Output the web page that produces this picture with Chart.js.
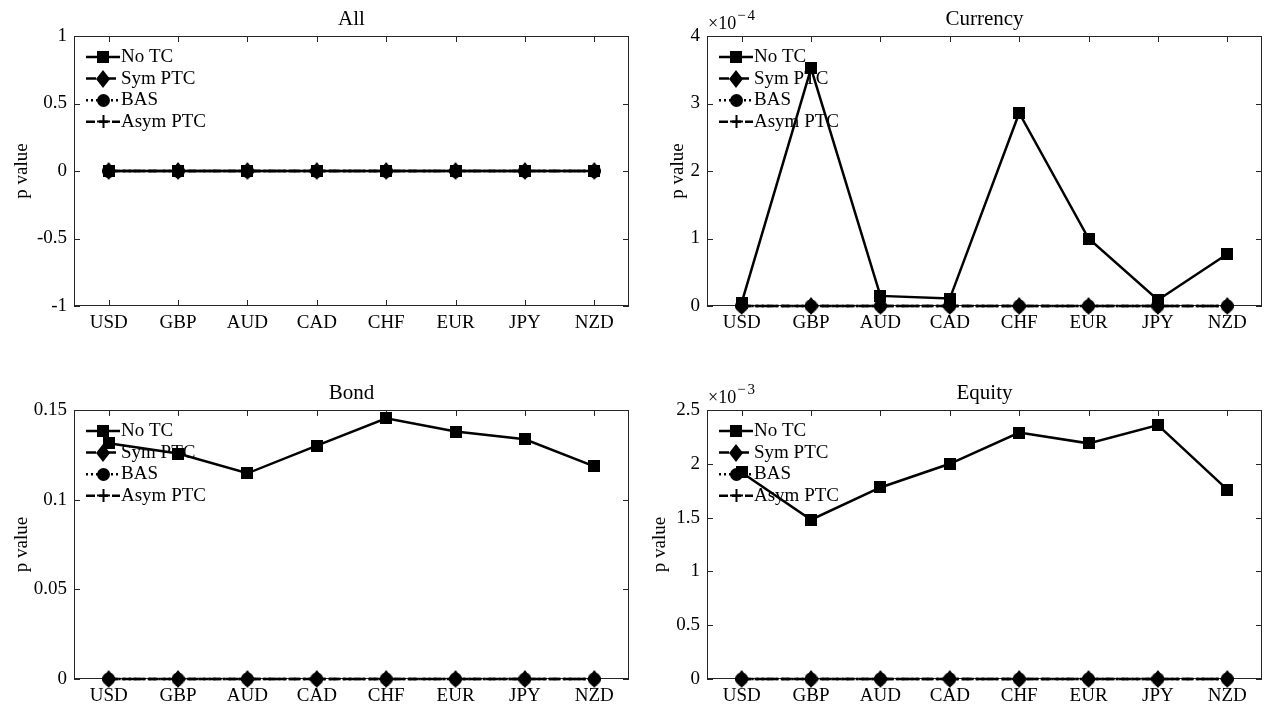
<!DOCTYPE html>
<html>
<head>
<meta charset="utf-8">
<title>p values by currency</title>
<script src="https://cdn.jsdelivr.net/npm/chart.js@4.4.1/dist/chart.umd.min.js"></script>
<style>
  html, body { margin: 0; padding: 0; background: #ffffff; }
  #wrap { position: relative; width: 1266px; height: 710px; overflow: hidden; background: #ffffff; }
  #wrap canvas { position: absolute; }
  #cAll      { left: 0;     top: 0; }
  #cCurrency { left: 633px; top: 0; }
  #cBond     { left: 0;     top: 355px; }
  #cEquity   { left: 633px; top: 355px; }
</style>
</head>
<body>
<div id="wrap">
  <canvas id="cAll" width="660" height="355"></canvas>
  <canvas id="cCurrency" width="660" height="355"></canvas>
  <canvas id="cBond" width="660" height="355"></canvas>
  <canvas id="cEquity" width="660" height="355"></canvas>
</div>
<script>
// ---- data -------------------------------------------------------------
const categories = ['USD', 'GBP', 'AUD', 'CAD', 'CHF', 'EUR', 'JPY', 'NZD'];
const seriesNames = ['No TC', 'Sym PTC', 'BAS', 'Asym PTC'];

// All assets
const allNoTC     = [0, 0, 0, 0, 0, 0, 0, 0];
const allSymPTC   = [0, 0, 0, 0, 0, 0, 0, 0];
const allBAS      = [0, 0, 0, 0, 0, 0, 0, 0];
const allAsymPTC  = [0, 0, 0, 0, 0, 0, 0, 0];
const allTicks    = [-1, -0.5, 0, 0.5, 1];

// Currency (values in units of 1e-4)
const currencyNoTC    = [0.05, 3.52, 0.15, 0.11, 2.86, 1.00, 0.09, 0.77];
const currencySymPTC  = [0, 0, 0, 0, 0, 0, 0, 0];
const currencyBAS     = [0, 0, 0, 0, 0, 0, 0, 0];
const currencyAsymPTC = [0, 0, 0, 0, 0, 0, 0, 0];
const currencyTicks   = [0, 1, 2, 3, 4];

// Bond
const bondNoTC    = [0.1314, 0.1257, 0.1147, 0.1301, 0.1454, 0.1380, 0.1337, 0.1186];
const bondSymPTC  = [0, 0, 0, 0, 0, 0, 0, 0];
const bondBAS     = [0, 0, 0, 0, 0, 0, 0, 0];
const bondAsymPTC = [0, 0, 0, 0, 0, 0, 0, 0];
const bondTicks   = [0, 0.05, 0.1, 0.15];

// Equity (values in units of 1e-3)
const equityNoTC    = [1.92, 1.48, 1.78, 2.00, 2.29, 2.19, 2.36, 1.76];
const equitySymPTC  = [0, 0, 0, 0, 0, 0, 0, 0];
const equityBAS     = [0, 0, 0, 0, 0, 0, 0, 0];
const equityAsymPTC = [0, 0, 0, 0, 0, 0, 0, 0];
const equityTicks   = [0, 0.5, 1, 1.5, 2, 2.5];

// ---- styling ----------------------------------------------------------
const FONT = '"Liberation Serif", "Times New Roman", serif';
const INK = '#000000';
const AXIS = '#262626';
const PW = 660, PH = 355;      // size of one panel canvas (right side runs past the frame)
const Y_AXIS_W = 74;
const X_AXIS_H = 30;

function markerCanvas(w, h, paint) {
  const c = document.createElement('canvas');
  c.width = w; c.height = h;
  const g = c.getContext('2d');
  g.fillStyle = INK; g.strokeStyle = INK;
  paint(g, w, h);
  return c;
}
const mSquare = markerCanvas(12, 12, (g, w, h) => g.fillRect(0, 0, w, h));
const mDiamond = markerCanvas(14, 18, (g, w, h) => {
  g.beginPath(); g.moveTo(w / 2, 0); g.lineTo(w, h / 2); g.lineTo(w / 2, h); g.lineTo(0, h / 2);
  g.closePath(); g.fill();
});
const mCircle = markerCanvas(13, 13, (g, w, h) => {
  g.beginPath(); g.arc(w / 2, h / 2, w / 2, 0, Math.PI * 2); g.fill();
});
const mPlus = markerCanvas(13, 13, (g, w, h) => {
  g.lineWidth = 2;
  g.beginPath(); g.moveTo(w / 2, 0); g.lineTo(w / 2, h); g.moveTo(0, h / 2); g.lineTo(w, h / 2); g.stroke();
});

const seriesStyles = [
  { marker: mSquare,  dash: [],            order: 4 },
  { marker: mDiamond, dash: [10, 4, 2, 4], order: 3 },
  { marker: mCircle,  dash: [2, 3],        order: 2 },
  { marker: mPlus,    dash: [9, 4],        order: 1 }
];

// ---- plugins ----------------------------------------------------------
// axes box with inward tick marks on all four sides
const framePlugin = {
  id: 'frame',
  beforeDatasetsDraw(chart) {
    const { ctx, chartArea: a, scales: { x, y } } = chart;
    const tl = 6;
    ctx.save();
    ctx.strokeStyle = AXIS;
    ctx.lineWidth = 1;
    ctx.strokeRect(a.left + 0.5, a.top + 0.5, a.right - a.left - 1, a.bottom - a.top - 1);
    ctx.beginPath();
    x.ticks.forEach((t, i) => {
      const px = Math.round(x.getPixelForTick(i)) + 0.5;
      ctx.moveTo(px, a.bottom); ctx.lineTo(px, a.bottom - tl);
      ctx.moveTo(px, a.top); ctx.lineTo(px, a.top + tl);
    });
    y.ticks.forEach(t => {
      const py = Math.round(y.getPixelForValue(t.value)) + 0.5;
      ctx.moveTo(a.left, py); ctx.lineTo(a.left + tl, py);
      ctx.moveTo(a.right, py); ctx.lineTo(a.right - tl, py);
    });
    ctx.stroke();
    ctx.restore();
  }
};

// boxless key in the upper left corner of the axes
const keyPlugin = {
  id: 'key',
  beforeDatasetsDraw(chart) {
    const { ctx, chartArea: a } = chart;
    ctx.save();
    chart.data.datasets.forEach((d, i) => {
      const st = seriesStyles[i];
      const yy = a.top + 21 + i * 21.6;
      ctx.strokeStyle = INK;
      ctx.lineWidth = 2.5;
      ctx.setLineDash(st.dash);
      ctx.beginPath();
      ctx.moveTo(a.left + 12, yy); ctx.lineTo(a.left + 46, yy);
      ctx.stroke();
      ctx.setLineDash([]);
      const m = st.marker;
      ctx.drawImage(m, Math.round(a.left + 29 - m.width / 2), Math.round(yy - m.height / 2));
      ctx.fillStyle = INK;
      ctx.font = '19px ' + FONT;
      ctx.textAlign = 'left';
      ctx.textBaseline = 'middle';
      ctx.fillText(d.label, a.left + 47, yy);
    });
    ctx.restore();
  }
};

// panel title and the axis multiplier above the y axis
const headPlugin = {
  id: 'head',
  afterDraw(chart, args, opts) {
    const { ctx, chartArea: a } = chart;
    ctx.save();
    ctx.fillStyle = INK;
    ctx.font = '21px ' + FONT;
    ctx.textAlign = 'center';
    ctx.textBaseline = 'alphabetic';
    ctx.fillText(opts.title, (a.left + a.right) / 2, a.top - 11);
    if (opts.exponent) {
      ctx.textAlign = 'left';
      ctx.font = '18px ' + FONT;
      const base = '\u00d710';
      ctx.fillText(base, a.left + 1, a.top - 7);
      const bw = ctx.measureText(base).width;
      ctx.font = '15px ' + FONT;
      const minus = '\u2212';
      ctx.fillText(minus, a.left + 2 + bw, a.top - 16);
      const mw = ctx.measureText(minus).width;
      ctx.fillText(opts.exponent, a.left + 4 + bw + mw, a.top - 16);
    }
    ctx.restore();
  }
};

// ---- chart factory ----------------------------------------------------
function makePanel(id, panel) {
  const datasets = panel.series.map((vals, i) => ({
    label: seriesNames[i],
    data: vals,
    borderColor: INK,
    backgroundColor: INK,
    borderWidth: 2.5,
    borderDash: seriesStyles[i].dash,
    pointStyle: seriesStyles[i].marker,
    pointRadius: 6,
    pointHoverRadius: 6,
    order: seriesStyles[i].order,
    tension: 0,
    fill: false,
    clip: false
  }));
  const a = panel.area;   // plot box inside this panel's canvas
  new Chart(document.getElementById(id), {
    type: 'line',
    data: { labels: categories, datasets },
    options: {
      responsive: false,
      animation: false,
      devicePixelRatio: 1,
      events: [],
      layout: {
        padding: {
          left: a.l - Y_AXIS_W,
          right: PW - a.r,
          top: a.t,
          bottom: PH - a.b - X_AXIS_H
        }
      },
      plugins: {
        legend: { display: false },
        tooltip: { enabled: false },
        title: { display: false },
        head: { title: panel.title, exponent: panel.exponent }
      },
      scales: {
        x: {
          type: 'category',
          offset: true,
          grid: { display: false, drawTicks: false },
          border: { display: false },
          ticks: { color: INK, font: { family: FONT, size: 19 }, padding: 6, autoSkip: false, maxRotation: 0 },
          afterFit(s) { s.height = X_AXIS_H; }
        },
        y: {
          type: 'linear',
          min: panel.ticks[0],
          max: panel.ticks[panel.ticks.length - 1],
          grid: { display: false, drawTicks: false },
          border: { display: false },
          ticks: { color: INK, font: { family: FONT, size: 19 }, padding: 7, callback: v => String(v) },
          afterBuildTicks(s) { s.ticks = panel.ticks.map(v => ({ value: v })); },
          afterFit(s) { s.width = Y_AXIS_W; },
          title: {
            display: true,
            text: 'p value',
            color: INK,
            font: { family: FONT, size: 19 },
            padding: { top: panel.yTitlePad, bottom: 0 }
          }
        }
      }
    },
    plugins: [framePlugin, keyPlugin, headPlugin]
  });
}

makePanel('cAll', {
  title: 'All',
  series: [allNoTC, allSymPTC, allBAS, allAsymPTC],
  ticks: allTicks,
  area: { l: 74, r: 629, t: 36, b: 306 },
  yTitlePad: 11
});
makePanel('cCurrency', {
  title: 'Currency',
  exponent: '4',
  series: [currencyNoTC, currencySymPTC, currencyBAS, currencyAsymPTC],
  ticks: currencyTicks,
  area: { l: 74, r: 629, t: 36, b: 306 },
  yTitlePad: 34
});
makePanel('cBond', {
  title: 'Bond',
  series: [bondNoTC, bondSymPTC, bondBAS, bondAsymPTC],
  ticks: bondTicks,
  area: { l: 74, r: 629, t: 55, b: 324 },
  yTitlePad: 11
});
makePanel('cEquity', {
  title: 'Equity',
  exponent: '3',
  series: [equityNoTC, equitySymPTC, equityBAS, equityAsymPTC],
  ticks: equityTicks,
  area: { l: 74, r: 629, t: 55, b: 324 },
  yTitlePad: 16
});
</script>
</body>
</html>
